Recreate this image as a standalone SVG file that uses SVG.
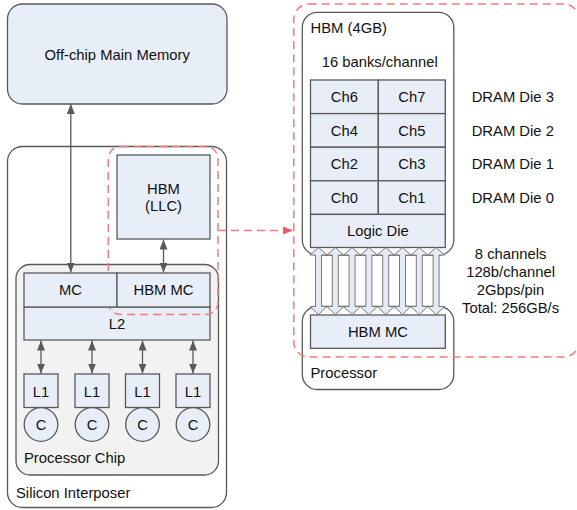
<svg xmlns="http://www.w3.org/2000/svg" xmlns:xlink="http://www.w3.org/1999/xlink" width="577" height="510" viewBox="0 0 577 510">
  <style>
    text { font-family: "Liberation Sans", Arial, sans-serif; font-size: 14.8px; fill: #111; }
    .c { text-anchor: middle; }
    .box { fill: #e8eef7; stroke: #595959; stroke-width: 1.3; }
    .frame { fill: #ffffff; stroke: #595959; stroke-width: 1.3; }
    .chip { fill: #f2f2f2; stroke: #595959; stroke-width: 1.3; }
    .link { fill: none; stroke: #595959; stroke-width: 1.3; marker-start: url(#ah); marker-end: url(#ah); }
    .dash { fill: none; stroke: #f47a7a; stroke-width: 1.5; stroke-dasharray: 8 5; }
    .bus { fill: #e3ebf5; stroke: #7a7a7a; stroke-width: 1; }
  </style>
  <defs>
    <marker id="ah" viewBox="0 0 10 8" refX="10" refY="4" markerWidth="10" markerHeight="8" markerUnits="userSpaceOnUse" orient="auto-start-reverse">
      <path d="M0,0 L10,4 L0,8 Z" fill="#595959"/>
    </marker>
    <marker id="rah" viewBox="0 0 10 8" refX="10" refY="4" markerWidth="10" markerHeight="8" markerUnits="userSpaceOnUse" orient="auto">
      <path d="M0,0 L10,4 L0,8 Z" fill="#f25c5c"/>
    </marker>
    <!-- double-headed block arrow, centred on x=0 -->
    <path id="bus" class="bus" d="M0,247.5 L8.4,255 L3,255 L3,306.5 L8.4,306.5 L0,314.5 L-8.4,306.5 L-3,306.5 L-3,255 L-8.4,255 Z"/>
  </defs>

  <!-- off-chip memory -->
  <g id="main-memory">
    <rect class="box" x="7.5" y="4" width="219.5" height="100" rx="15"/>
    <text class="c" x="117.2" y="59.5">Off-chip Main Memory</text>
  </g>

  <!-- interposer package -->
  <g id="silicon-interposer">
    <rect class="frame" x="7.5" y="146.5" width="219" height="361" rx="15"/>
    <text x="16" y="497.5">Silicon Interposer</text>
  </g>

  <g id="hbm-llc">
    <rect class="box" x="117" y="155" width="93" height="84"/>
    <text class="c" x="163.5" y="194.3">HBM</text>
    <text class="c" x="163.5" y="210.5">(LLC)</text>
  </g>

  <g id="processor-chip">
    <rect class="chip" x="16" y="264.5" width="202.5" height="210.5" rx="14"/>
    <text x="24" y="463.3">Processor Chip</text>
  </g>

  <g id="l2">
    <rect class="box" x="24" y="307" width="186" height="33"/>
    <text class="c" x="117" y="329">L2</text>
  </g>

  <!-- highlight region around the HBM and its controller -->
  <rect id="hbm-region" class="dash" x="108.3" y="146.5" width="109.7" height="168" rx="12"/>

  <g id="mc">
    <rect class="box" x="24" y="273" width="93" height="34"/>
    <text class="c" x="70.5" y="295.3">MC</text>
  </g>
  <g id="hbm-mc">
    <rect class="box" x="117" y="273" width="93" height="34"/>
    <text class="c" x="163.5" y="295.3">HBM MC</text>
  </g>

  <g id="core0">
    <rect class="box" x="24" y="374" width="34" height="33.5"/>
    <text class="c" x="41" y="396.7">L1</text>
    <circle class="box" cx="41" cy="424.5" r="16.8"/>
    <text class="c" x="41" y="430">C</text>
  </g>
  <g id="core1">
    <rect class="box" x="75" y="374" width="34" height="33.5"/>
    <text class="c" x="92" y="396.7">L1</text>
    <circle class="box" cx="92" cy="424.5" r="16.8"/>
    <text class="c" x="92" y="430">C</text>
  </g>
  <g id="core2">
    <rect class="box" x="125.5" y="374" width="34" height="33.5"/>
    <text class="c" x="142.5" y="396.7">L1</text>
    <circle class="box" cx="142.5" cy="424.5" r="16.8"/>
    <text class="c" x="142.5" y="430">C</text>
  </g>
  <g id="core3">
    <rect class="box" x="176" y="374" width="34" height="33.5"/>
    <text class="c" x="193" y="396.7">L1</text>
    <circle class="box" cx="193" cy="424.5" r="16.8"/>
    <text class="c" x="193" y="430">C</text>
  </g>

  <!-- detailed HBM view -->
  <g id="hbm-stack">
    <rect class="frame" x="302.3" y="12.3" width="151.5" height="242.7" rx="15"/>
    <text x="310.5" y="33.3">HBM (4GB)</text>
    <text class="c" x="379.7" y="66.7">16 banks/channel</text>
    <rect class="box" x="310.5" y="80" width="67.8" height="33.6"/>
    <rect class="box" x="378.3" y="80" width="67" height="33.6"/>
    <rect class="box" x="310.5" y="113.6" width="67.8" height="33.6"/>
    <rect class="box" x="378.3" y="113.6" width="67" height="33.6"/>
    <rect class="box" x="310.5" y="147.2" width="67.8" height="33.6"/>
    <rect class="box" x="378.3" y="147.2" width="67" height="33.6"/>
    <rect class="box" x="310.5" y="180.8" width="67.8" height="33.6"/>
    <rect class="box" x="378.3" y="180.8" width="67" height="33.6"/>
    <rect class="box" x="310.5" y="214.4" width="134.8" height="33.1"/>
    <text class="c" x="344.4" y="102">Ch6</text>
    <text class="c" x="411.8" y="102">Ch7</text>
    <text class="c" x="344.4" y="135.6">Ch4</text>
    <text class="c" x="411.8" y="135.6">Ch5</text>
    <text class="c" x="344.4" y="169.2">Ch2</text>
    <text class="c" x="411.8" y="169.2">Ch3</text>
    <text class="c" x="344.4" y="202.8">Ch0</text>
    <text class="c" x="411.8" y="202.8">Ch1</text>
    <text class="c" x="377.9" y="236.3">Logic Die</text>
    <text x="471.7" y="102">DRAM Die 3</text>
    <text x="471.7" y="135.6">DRAM Die 2</text>
    <text x="471.7" y="169.2">DRAM Die 1</text>
    <text x="471.7" y="202.8">DRAM Die 0</text>
  </g>

  <g id="processor">
    <rect class="frame" x="302.3" y="306.5" width="151.5" height="83" rx="15"/>
    <rect class="box" x="310.5" y="315" width="134.8" height="33.3"/>
    <text class="c" x="377.9" y="337">HBM MC</text>
    <text x="310.5" y="378.3">Processor</text>
  </g>

  <g id="link-specs">
    <text class="c" x="510.6" y="259.3">8 channels</text>
    <text class="c" x="510.6" y="277">128b/channel</text>
    <text class="c" x="510.6" y="294.6">2Gbps/pin</text>
    <text class="c" x="510.6" y="312.6">Total: 256GB/s</text>
  </g>

  <rect id="hbm-detail-region" class="dash" x="293.8" y="4" width="285" height="353" rx="15"/>

  <!-- connectors -->
  <g id="connectors">
    <line class="link" x1="70.8" y1="104" x2="70.8" y2="272.5"/>
    <line class="link" x1="163.5" y1="239.5" x2="163.5" y2="272.5"/>
    <line class="link" x1="41" y1="340.5" x2="41" y2="373.5"/>
    <line class="link" x1="92" y1="340.5" x2="92" y2="373.5"/>
    <line class="link" x1="142.5" y1="340.5" x2="142.5" y2="373.5"/>
    <line class="link" x1="193" y1="340.5" x2="193" y2="373.5"/>
    <line x1="218" y1="230.5" x2="293" y2="230.5" stroke="#f47a7a" stroke-width="1.5" stroke-dasharray="8 5" marker-end="url(#rah)"/>
    <use xlink:href="#bus" x="318.5"/>
    <use xlink:href="#bus" x="335.3"/>
    <use xlink:href="#bus" x="352.1"/>
    <use xlink:href="#bus" x="368.9"/>
    <use xlink:href="#bus" x="385.7"/>
    <use xlink:href="#bus" x="402.5"/>
    <use xlink:href="#bus" x="419.3"/>
    <use xlink:href="#bus" x="436.1"/>
  </g>
</svg>
